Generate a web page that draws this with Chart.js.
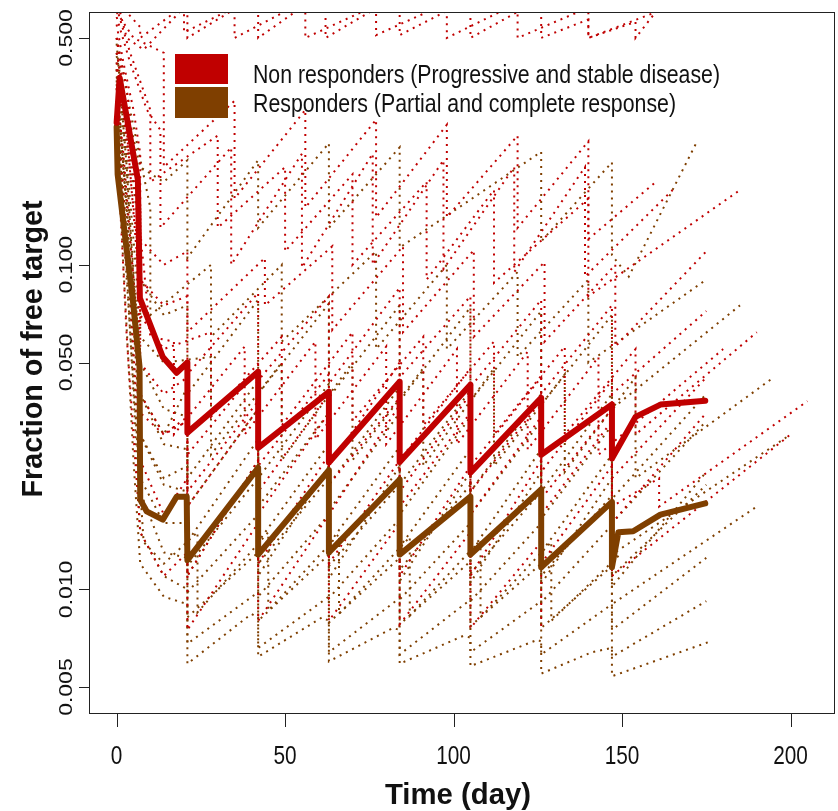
<!DOCTYPE html>
<html lang="en">
<head>
<meta charset="UTF-8">
<title>Fraction of free target over time</title>
<script src="https://cdn.jsdelivr.net/npm/chart.js"></script>
<style>
  body { margin: 0; background: #fff; }
  #wrap { width: 838px; height: 811px; }
</style>
</head>
<body>
<div id="wrap"><canvas id="chart" width="838" height="811"></canvas></div>
<script>
// ---- data: [day, fraction of free target] ----
const seriesNames = ['Non responders (Progressive and stable disease)',
                     'Responders (Partial and complete response)'];

// median profiles (thick lines)
const nonRespMedian = [[0,0.274],[0.9,0.377],[6.3,0.183],[6.9,0.079],[13.7,0.052],[17.8,0.0465],[21,0.050],[21,0.0304],
  [42,0.0468],[42,0.0273],[63,0.0406],[63,0.0246],[84,0.0436],[84,0.0247],[105,0.0427],[105,0.0229],
  [126,0.0389],[126,0.026],[147,0.0371],[147,0.0253],[154,0.034],[161.4,0.0371],[174.7,0.0381]];
const respMedian = [[0,0.266],[0.3,0.19],[2.4,0.125],[4.8,0.078],[6.8,0.0485],[7,0.0189],[8.9,0.0174],[13.7,0.0164],
  [17.8,0.0193],[20.8,0.0193],[21,0.0123],[42,0.0237],[42,0.0128],[63,0.0233],[63,0.013],[84,0.0218],[84,0.0128],
  [105,0.0193],[105,0.0128],[126,0.0203],[126,0.0117],[147,0.0186],[147,0.0117],[148.9,0.0150],[153.3,0.0151],
  [161.4,0.017],[174.7,0.0184]];

// individual profiles (dotted lines)
const nonRespPatients = [
  [[0,0.78],[3,0.6],[7,0.54],[7,0.5],[21,0.64],[21,0.5],[42,0.68],[42,0.5],[62,0.7],[62,0.5],[84,0.68],[84,0.51],[105,0.66],[105,0.5],[126,0.66],[126,0.5],[140,0.57],[140,0.5],[154,0.56],[154,0.5],[161,0.62]],
  [[0,0.66],[3,0.5],[8,0.46],[20,0.62],[20,0.52],[35,0.62],[35,0.5],[56,0.65],[56,0.5],[77,0.63],[77,0.51],[98,0.64],[98,0.5],[119,0.64],[119,0.5],[140,0.62],[140,0.5],[160,0.6]],
  [[0,0.58],[4,0.42],[9,0.3],[13,0.26],[13,0.13],[34,0.23],[34,0.1],[55,0.22],[55,0.098],[76,0.22],[76,0.1],[97,0.21],[97,0.097],[118,0.2],[118,0.095],[139,0.2],[139,0.092],[165,0.17]],
  [[0,0.55],[2,0.42],[5,0.3],[7,0.22],[7,0.12],[14,0.1],[21,0.11],[21,0.062],[44,0.105],[44,0.075],[64,0.114],[64,0.063],[85,0.114],[85,0.062],[106,0.111],[106,0.06],[127,0.102],[127,0.058],[148,0.1],[148,0.056],[175,0.11]],
  [[0,0.45],[3,0.3],[6,0.2],[7,0.09],[14,0.075],[21,0.08],[21,0.046],[42,0.082],[42,0.044],[63,0.08],[63,0.043],[84,0.085],[84,0.045],[105,0.08],[105,0.042],[126,0.078],[126,0.04],[147,0.075],[147,0.04],[175,0.072]],
  [[0,0.5],[3,0.35],[7,0.15],[7,0.07],[14,0.055],[28,0.062],[28,0.034],[49,0.06],[49,0.032],[70,0.062],[70,0.033],[91,0.06],[91,0.032],[112,0.058],[112,0.03],[133,0.056],[133,0.03],[154,0.055],[154,0.03],[190,0.062]],
  [[0,0.4],[2,0.3],[6,0.12],[7,0.05],[14,0.04],[21,0.045],[21,0.026],[42,0.048],[42,0.024],[63,0.046],[63,0.024],[84,0.05],[84,0.025],[105,0.048],[105,0.024],[126,0.045],[126,0.023],[147,0.044],[147,0.022],[175,0.045]],
  [[0,0.35],[2,0.22],[5,0.09],[7,0.04],[14,0.03],[21,0.034],[21,0.018],[42,0.036],[42,0.017],[63,0.035],[63,0.017],[84,0.037],[84,0.018],[105,0.035],[105,0.017],[126,0.034],[126,0.017],[147,0.033],[147,0.016],[175,0.035]],
  [[0,0.3],[3,0.12],[7,0.025],[14,0.017],[21,0.022],[21,0.011],[42,0.025],[42,0.012],[63,0.026],[63,0.012],[84,0.025],[84,0.011],[105,0.024],[105,0.011],[126,0.025],[126,0.012],[147,0.024],[147,0.011],[200,0.03]],
  [[0,0.62],[4,0.45],[10,0.3],[10,0.18],[30,0.25],[30,0.13],[50,0.2],[50,0.11],[70,0.19],[70,0.1],[92,0.18],[92,0.09],[112,0.17],[112,0.088],[140,0.16],[140,0.08],[185,0.17]],
  [[0,0.6],[5,0.5],[14,0.45],[14,0.2],[35,0.32],[35,0.16],[56,0.3],[56,0.15],[77,0.28],[77,0.14],[98,0.27],[98,0.14],[119,0.25],[119,0.13],[140,0.24],[140,0.12],[160,0.18]],
  [[0,0.25],[3,0.06],[7,0.015],[14,0.011],[21,0.013],[21,0.0075],[42,0.016],[42,0.008],[63,0.017],[63,0.008],[84,0.016],[84,0.0078],[105,0.015],[105,0.0076],[126,0.014],[126,0.0075]],
  [[0,0.5],[2,0.35],[7,0.08],[7,0.035],[14,0.03],[21,0.033],[21,0.02],[42,0.038],[42,0.02],[63,0.04],[63,0.021],[84,0.039],[84,0.02],[105,0.04],[105,0.02],[126,0.038],[126,0.019],[147,0.036],[147,0.018],[161,0.022],[161,0.018],[205,0.038]],
  [[0,0.42],[3,0.28],[8,0.1],[10,0.06],[17,0.058],[17,0.03],[38,0.056],[38,0.03],[59,0.058],[59,0.029],[80,0.056],[80,0.028],[101,0.055],[101,0.028],[122,0.054],[122,0.027],[143,0.052],[143,0.026],[180,0.055]]
];
const respPatients = [
  [[0,0.45],[3,0.3],[7,0.2],[14,0.18],[21,0.21],[21,0.105],[42,0.21],[42,0.13],[63,0.237],[63,0.13],[84,0.23],[84,0.113],[126,0.223],[126,0.118],[147,0.207],[147,0.107],[152,0.092],[172,0.237]],
  [[0,0.28],[2,0.1],[5,0.025],[7,0.012],[14,0.0095],[21,0.009],[21,0.0059],[40,0.0084],[42,0.0082],[42,0.0062],[61,0.0082],[63,0.008],[63,0.006],[82,0.0076],[84,0.0075],[84,0.0059],[103,0.0072],[105,0.0071],[105,0.0058],[125,0.007],[126,0.0069],[126,0.0055],[141,0.0064],[147,0.0066],[147,0.0054],[176,0.0069]],
  [[0,0.32],[2,0.15],[5,0.04],[7,0.015],[14,0.011],[21,0.01],[21,0.0068],[42,0.0098],[42,0.0066],[63,0.0095],[63,0.0064],[84,0.0094],[84,0.0063],[105,0.0093],[105,0.0064],[126,0.0092],[126,0.0063],[147,0.009],[147,0.0062],[175,0.0092]],
  [[0,0.35],[3,0.12],[7,0.02],[14,0.013],[21,0.0125],[21,0.0082],[42,0.013],[42,0.008],[63,0.0128],[63,0.0079],[84,0.0125],[84,0.0078],[105,0.0122],[105,0.0077],[126,0.012],[126,0.0076],[147,0.0118],[147,0.0075],[175,0.0125]],
  [[0,0.4],[2,0.2],[6,0.05],[7,0.022],[14,0.016],[21,0.016],[21,0.0098],[42,0.017],[42,0.0095],[63,0.017],[63,0.0094],[84,0.0165],[84,0.0093],[105,0.016],[105,0.0092],[126,0.016],[126,0.0091],[147,0.0158],[147,0.009],[190,0.018]],
  [[0,0.42],[2,0.25],[6,0.07],[7,0.03],[14,0.021],[21,0.02],[21,0.0118],[42,0.022],[42,0.012],[63,0.022],[63,0.0118],[84,0.021],[84,0.0115],[105,0.021],[105,0.0112],[126,0.02],[126,0.011],[147,0.0195],[147,0.011],[175,0.021]],
  [[0,0.48],[3,0.2],[7,0.04],[14,0.028],[21,0.027],[21,0.014],[42,0.029],[42,0.014],[63,0.028],[63,0.0138],[84,0.0275],[84,0.0135],[105,0.027],[105,0.013],[126,0.027],[126,0.013],[147,0.026],[147,0.0128],[200,0.03]],
  [[0,0.38],[2,0.28],[6,0.09],[7,0.05],[14,0.036],[21,0.034],[21,0.018],[42,0.036],[42,0.018],[63,0.035],[63,0.0175],[84,0.035],[84,0.017],[105,0.034],[105,0.017],[126,0.033],[126,0.0165],[147,0.032],[147,0.016],[175,0.033]],
  [[0,0.4],[3,0.25],[7,0.12],[7,0.06],[14,0.05],[28,0.052],[28,0.026],[49,0.05],[49,0.025],[70,0.05],[70,0.025],[91,0.048],[91,0.024],[112,0.048],[112,0.024],[133,0.046],[133,0.023],[154,0.045],[154,0.022],[195,0.045]],
  [[0,0.5],[4,0.3],[10,0.15],[10,0.07],[28,0.1],[28,0.06],[49,0.1],[49,0.058],[77,0.11],[77,0.055],[98,0.1],[98,0.055],[119,0.095],[119,0.052],[140,0.09],[140,0.05],[175,0.09]],
  [[0,0.3],[2,0.13],[6,0.03],[8,0.014],[14,0.012],[24,0.015],[24,0.0085],[45,0.015],[45,0.0086],[66,0.0148],[66,0.0084],[87,0.0145],[87,0.0083],[108,0.0142],[108,0.0082],[129,0.014],[129,0.008],[150,0.013]],
  [[0,0.36],[3,0.15],[7,0.03],[14,0.022],[21,0.024],[21,0.011],[42,0.025],[42,0.011],[63,0.024],[63,0.0108],[84,0.024],[84,0.0106],[105,0.023],[105,0.0105],[126,0.023],[126,0.0104],[147,0.022],[147,0.0102],[175,0.023]],
  [[0,0.44],[3,0.3],[7,0.15],[7,0.09],[14,0.07],[21,0.075],[21,0.04],[42,0.078],[42,0.04],[63,0.076],[63,0.039],[84,0.075],[84,0.038],[105,0.074],[105,0.038],[126,0.072],[126,0.037],[147,0.07],[147,0.036],[185,0.075]],
  [[0,0.37],[2,0.2],[6,0.07],[7,0.04],[14,0.03],[21,0.042],[21,0.022],[42,0.044],[42,0.022],[63,0.043],[63,0.021],[84,0.042],[84,0.021],[105,0.041],[105,0.02],[126,0.04],[126,0.02],[147,0.04],[147,0.019],[175,0.04]]
];

// axis ticks
const xTicks = [0, 50, 100, 150, 200];
const yTicks = [0.005, 0.01, 0.05, 0.1, 0.5];
const yTickLabels = ['0.005', '0.010', '0.050', '0.100', '0.500'];

const RED = '#C00000';
const BROWN = '#7F3F00';

function toXY(arr) {
  return arr.map(p => ({ x: p[0], y: p[1] }));
}

// dotted individual profile
function dotted(points, color) {
  return {
    data: toXY(points),
    borderColor: color,
    borderWidth: 2,
    borderDash: [2, 5],
    borderCapStyle: 'butt',
    borderJoinStyle: 'miter',
    order: 1
  };
}

const datasets = [];
datasets.push({ data: toXY(nonRespMedian), borderColor: RED, borderWidth: 6, order: 0 });
datasets.push({ data: toXY(respMedian), borderColor: BROWN, borderWidth: 6, order: 0 });
nonRespPatients.forEach(p => datasets.push(dotted(p, RED)));
respPatients.forEach(p => datasets.push(dotted(p, BROWN)));

// draws R-style box, axes, labels and legend
function fitText(ctx, txt, x, y, width) {
  const w = ctx.measureText(txt).width;
  ctx.save();
  ctx.translate(x, y);
  ctx.scale(width / w, 1);
  ctx.textAlign = 'center';
  ctx.fillText(txt, 0, 0);
  ctx.restore();
}

const rAxes = {
  id: 'rAxes',
  afterDraw(chart) {
    const ctx = chart.ctx;
    const a = chart.chartArea;
    const xs = chart.scales.x, ys = chart.scales.y;
    ctx.save();
    ctx.strokeStyle = '#222';
    ctx.lineWidth = 1;
    ctx.strokeRect(a.left + 0.5, a.top + 0.5, a.right - a.left - 1, a.bottom - a.top);
    ctx.fillStyle = '#111';

    // x axis
    ctx.beginPath();
    xTicks.forEach(v => {
      const px = Math.round(xs.getPixelForValue(v)) + 0.5;
      ctx.moveTo(px, a.bottom);
      ctx.lineTo(px, a.bottom + 14);
    });
    ctx.stroke();
    ctx.font = '26px "Liberation Sans", Arial, sans-serif';
    ctx.textBaseline = 'alphabetic';
    xTicks.forEach(v => {
      const px = xs.getPixelForValue(v);
      ctx.save();
      ctx.translate(px, 764);
      ctx.scale(0.8, 1);
      ctx.textAlign = 'center';
      ctx.fillText(String(v), 0, 0);
      ctx.restore();
    });

    // y axis
    ctx.beginPath();
    yTicks.forEach(v => {
      const py = Math.round(ys.getPixelForValue(v)) + 0.5;
      ctx.moveTo(a.left, py);
      ctx.lineTo(a.left - 10, py);
    });
    ctx.stroke();
    ctx.font = '23px "Liberation Sans", Arial, sans-serif';
    yTicks.forEach((v, i) => {
      const py = ys.getPixelForValue(v);
      ctx.save();
      ctx.translate(72, py);
      ctx.rotate(-Math.PI / 2);
      ctx.scale(1, 0.8);
      ctx.textAlign = 'center';
      ctx.fillText(yTickLabels[i], 0, 0);
      ctx.restore();
    });

    // axis titles
    ctx.font = 'bold 29px "Liberation Sans", Arial, sans-serif';
    fitText(ctx, 'Time (day)', (a.left + a.right) / 2 - 4, 804, 146);
    ctx.save();
    ctx.translate(42, 349);
    ctx.rotate(-Math.PI / 2);
    fitText(ctx, 'Fraction of free target', 0, 0, 297);
    ctx.restore();

    // legend
    ctx.fillStyle = RED;
    ctx.fillRect(175, 54, 53, 30);
    ctx.fillStyle = BROWN;
    ctx.fillRect(175, 87, 53, 31);
    ctx.fillStyle = '#111';
    ctx.font = '25px "Liberation Sans", Arial, sans-serif';
    const w1 = ctx.measureText(seriesNames[0]).width;
    ctx.save();
    ctx.translate(253, 83);
    ctx.scale(467 / w1, 1);
    ctx.textAlign = 'left';
    ctx.fillText(seriesNames[0], 0, 0);
    ctx.restore();
    const w2 = ctx.measureText(seriesNames[1]).width;
    ctx.save();
    ctx.translate(253, 112);
    ctx.scale(423 / w2, 1);
    ctx.textAlign = 'left';
    ctx.fillText(seriesNames[1], 0, 0);
    ctx.restore();
    ctx.restore();
  }
};

new Chart(document.getElementById('chart'), {
  type: 'line',
  data: { datasets: datasets },
  options: {
    responsive: false,
    animation: false,
    devicePixelRatio: 1,
    layout: { padding: { left: 89, right: 3, top: 12, bottom: 98 } },
    elements: {
      point: { radius: 0, hoverRadius: 0 },
      line: { tension: 0, fill: false, borderJoinStyle: 'round', borderCapStyle: 'round' }
    },
    scales: {
      x: { type: 'linear', min: -8.2, max: 213.2, display: false },
      y: { type: 'logarithmic', min: 0.00416, max: 0.601, display: false, bounds: 'data' }
    },
    plugins: {
      legend: { display: false },
      tooltip: { enabled: false }
    }
  },
  plugins: [rAxes]
});
</script>
</body>
</html>
